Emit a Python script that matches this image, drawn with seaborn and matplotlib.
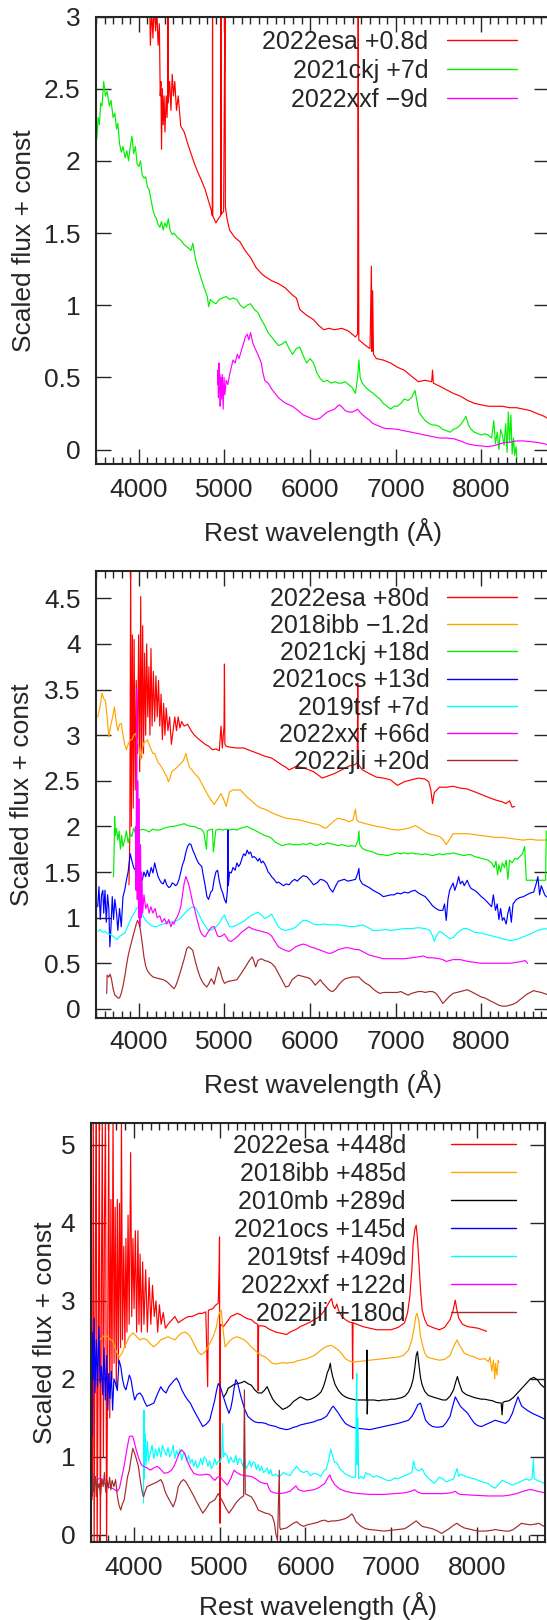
import matplotlib.pyplot as plt
import seaborn as sns
from matplotlib.ticker import MultipleLocator, NullLocator, FuncFormatter

sns.set_style('ticks')
plt.rcParams['font.family'] = ['Liberation Sans', 'DejaVu Sans']

# ---------------- panel 1 (early) ----------------
esa1_wl = [4120, 4135, 4150, 4165, 4180, 4195, 4210, 4225, 4240, 4250, 4258, 4265, 4275, 4285, 4295,
           4305, 4320, 4330, 4338, 4340, 4343, 4360, 4375, 4390, 4405, 4420, 4440, 4460, 4490, 4530,
           4570, 4610, 4650, 4690, 4735, 4775, 4815, 4850, 4858, 4861, 4864, 4900, 4930, 4955, 4959,
           4963, 4990, 5007, 5011, 5030, 5060, 5120, 5180, 5240, 5305, 5370, 5430, 5470, 5550, 5630,
           5710, 5795, 5840, 5880, 5960, 6040, 6100, 6160, 6220, 6285, 6370, 6450, 6530, 6555, 6562,
           6569, 6610, 6650, 6700, 6716, 6722, 6731, 6740, 6775, 6855, 6940, 7020, 7100, 7180, 7265,
           7340, 7420, 7430, 7440, 7510, 7590, 7670, 7755, 7840, 7920, 8000, 8080, 8165, 8245, 8330,
           8410, 8490, 8570, 8650, 8735, 8790]
esa1_fl = [3.3, 2.8, 3.05, 2.85, 3.1, 2.9, 3.05, 2.8, 2.95, 2.45, 2.55, 2.08, 2.5, 2.25, 2.45,
           2.2, 2.45, 2.3, 2.5, 3.2, 2.4, 2.55, 2.35, 2.6, 2.45, 2.55, 2.35, 2.45, 2.24, 2.2,
           2.12, 2.05, 1.98, 1.92, 1.86, 1.8, 1.72, 1.65, 1.62, 3.2, 1.62, 1.57, 1.6, 1.62, 3.2,
           1.63, 1.65, 3.2, 1.68, 1.6, 1.52, 1.47, 1.44, 1.38, 1.33, 1.26, 1.22, 1.2, 1.17, 1.15,
           1.12, 1.07, 1.05, 0.97, 0.93, 0.9, 0.86, 0.83, 0.84, 0.83, 0.84, 0.82, 0.78, 0.8, 3.2,
           0.76, 0.74, 0.72, 0.7, 1.27, 0.68, 1.1, 0.66, 0.63, 0.62, 0.6, 0.57, 0.55, 0.51, 0.47,
           0.48, 0.47, 0.55, 0.46, 0.44, 0.415, 0.39, 0.37, 0.34, 0.32, 0.31, 0.3, 0.3, 0.3, 0.29,
           0.29, 0.28, 0.27, 0.25, 0.23, 0.21]

ckj1_wl = [3510, 3525, 3540, 3555, 3570, 3590, 3610, 3630, 3655, 3675, 3700, 3720, 3740, 3755, 3775,
           3795, 3815, 3840, 3860, 3880, 3900, 3920, 3940, 3960, 3980, 4000, 4020, 4040, 4060, 4080,
           4100, 4120, 4145, 4165, 4185, 4205, 4225, 4245, 4265, 4285, 4305, 4325, 4345, 4365, 4390,
           4410, 4450, 4490, 4530, 4570, 4610, 4630, 4650, 4670, 4695, 4735, 4775, 4800, 4815, 4835,
           4870, 4900, 4940, 4980, 5020, 5060, 5100, 5145, 5185, 5225, 5265, 5305, 5350, 5390, 5430,
           5470, 5510, 5550, 5590, 5630, 5670, 5715, 5755, 5795, 5840, 5880, 5920, 5960, 6000, 6040,
           6080, 6120, 6160, 6200, 6245, 6290, 6330, 6365, 6410, 6450, 6490, 6530, 6555, 6570, 6585,
           6610, 6650, 6690, 6735, 6775, 6815, 6855, 6900, 6940, 6980, 7020, 7060, 7100, 7145, 7185,
           7225, 7250, 7270, 7305, 7345, 7390, 7430, 7470, 7510, 7550, 7595, 7635, 7675, 7715, 7755,
           7790, 7820, 7850, 7880, 7920, 7960, 8000, 8040, 8080, 8120, 8145, 8165, 8185, 8205, 8225,
           8245, 8265, 8285, 8300, 8315, 8330, 8345, 8360, 8375, 8390, 8405, 8415]
ckj1_fl = [2.15, 2.3, 2.25, 2.4, 2.38, 2.55, 2.45, 2.48, 2.38, 2.42, 2.3, 2.33, 2.22, 2.26, 2.12,
           2.06, 2.1, 2.02, 2.07, 2.0, 2.1, 2.17, 2.05, 2.1, 1.98, 1.96, 2.0, 1.9, 1.88, 1.89,
           1.82, 1.8, 1.72, 1.66, 1.62, 1.6, 1.56, 1.54, 1.58, 1.52, 1.57, 1.54, 1.6, 1.52, 1.49,
           1.5, 1.47, 1.45, 1.42, 1.4, 1.38, 1.43, 1.36, 1.3, 1.25, 1.17, 1.1, 1.06, 0.99, 1.04,
           1.02, 1.01, 1.04, 1.05, 1.06, 1.04, 1.05, 1.04, 1.0, 0.98, 1.0, 1.01, 0.97, 0.95, 0.9,
           0.86, 0.81, 0.78, 0.75, 0.72, 0.73, 0.75, 0.7, 0.66, 0.7, 0.71, 0.65, 0.6, 0.63, 0.6,
           0.53, 0.49, 0.47, 0.48, 0.46, 0.47, 0.46, 0.46, 0.47, 0.45, 0.43, 0.39, 0.5, 0.62, 0.5,
           0.46, 0.43, 0.41, 0.39, 0.37, 0.35, 0.32, 0.3, 0.28, 0.3, 0.3, 0.32, 0.35, 0.34, 0.36,
           0.41, 0.33, 0.26, 0.23, 0.2, 0.18, 0.17, 0.17, 0.16, 0.14, 0.13, 0.12, 0.14, 0.15, 0.17,
           0.2, 0.23, 0.17, 0.14, 0.12, 0.11, 0.1, 0.11, 0.1, 0.08, 0.2, 0.04, 0.12, 0.0, 0.14,
           0.1, 0.03, 0.18, -0.02, 0.26, 0.05, 0.24, -0.03, 0.08, -0.04, 0.02, -0.06]

xxf1_wl = [4920, 4925, 4930, 4935, 4940, 4945, 4950, 4958, 4965, 4975, 4985, 4995, 5005, 5020, 5040,
           5060, 5080, 5100, 5125, 5150, 5170, 5185, 5205, 5225, 5245, 5265, 5285, 5305, 5330, 5350,
           5390, 5430, 5450, 5470, 5510, 5550, 5590, 5630, 5670, 5715, 5755, 5795, 5840, 5880, 5920,
           5960, 6000, 6040, 6080, 6120, 6160, 6200, 6245, 6285, 6320, 6345, 6380, 6410, 6450, 6490,
           6530, 6555, 6580, 6615, 6655, 6700, 6735, 6775, 6815, 6855, 6900, 6940, 7020, 7100, 7185,
           7265, 7345, 7430, 7510, 7590, 7675, 7755, 7835, 7920, 8000, 8080, 8165, 8245, 8290, 8330,
           8410, 8490, 8570, 8650, 8735, 8790]
xxf1_fl = [0.45, 0.55, 0.36, 0.6, 0.4, 0.52, 0.3, 0.5, 0.35, 0.52, 0.28, 0.5, 0.38, 0.48, 0.45,
           0.52, 0.57, 0.62, 0.6, 0.66, 0.63, 0.66, 0.7, 0.74, 0.78, 0.8, 0.76, 0.81, 0.74, 0.71,
           0.66, 0.6, 0.53, 0.48, 0.46, 0.42, 0.39, 0.36, 0.34, 0.32, 0.31, 0.3, 0.28, 0.26, 0.24,
           0.23, 0.22, 0.21, 0.21, 0.22, 0.24, 0.26, 0.27, 0.28, 0.3, 0.31, 0.29, 0.27, 0.26, 0.26,
           0.27, 0.28, 0.26, 0.24, 0.22, 0.2, 0.18, 0.17, 0.16, 0.15, 0.145, 0.145, 0.14, 0.13, 0.12,
           0.11, 0.1, 0.09, 0.08, 0.08, 0.075, 0.06, 0.04, 0.03, 0.025, 0.02, 0.03, 0.045, 0.05, 0.05,
           0.06, 0.06, 0.055, 0.05, 0.04, 0.03]

# ---------------- panel 2 (intermediate) ----------------
esa2_wl = [3885, 3895, 3905, 3912, 3925, 3935, 3945, 3958, 3970, 3985, 3998, 4010, 4022, 4032, 4045,
           4055, 4068, 4080, 4092, 4105, 4118, 4130, 4142, 4155, 4170, 4185, 4200, 4215, 4230, 4245,
           4260, 4275, 4290, 4305, 4320, 4340, 4360, 4380, 4400, 4420, 4440, 4460, 4480, 4500, 4530,
           4570, 4610, 4650, 4695, 4735, 4775, 4815, 4860, 4900, 4940, 4960, 4975, 4995, 5000, 5005,
           5020, 5060, 5140, 5225, 5305, 5390, 5470, 5550, 5630, 5675, 5715, 5755, 5800, 5840, 5880,
           5960, 6040, 6100, 6140, 6200, 6285, 6370, 6450, 6530, 6550, 6557, 6563, 6610, 6690, 6775,
           6855, 6940, 7020, 7060, 7100, 7180, 7265, 7340, 7385, 7410, 7430, 7450, 7510, 7590, 7670,
           7755, 7835, 7920, 8000, 8080, 8165, 8245, 8285, 8330, 8360, 8390]
esa2_fl = [1.36, 1.9, 5.0, 2.0, 4.1, 2.2, 4.05, 2.4, 3.6, 2.8, 4.1, 2.6, 4.52, 2.75, 4.2,
           2.8, 3.9, 3.0, 4.0, 3.2, 3.75, 3.0, 3.95, 3.1, 3.7, 3.15, 3.65, 3.2, 3.6, 3.1,
           3.45, 2.95, 3.35, 3.0, 3.3, 3.05, 3.2, 2.9, 3.05, 3.2, 3.05, 3.2, 3.08, 3.15, 3.1,
           3.12, 3.05, 3.0, 2.96, 2.93, 2.9, 2.88, 2.84, 2.85, 2.83, 3.1, 2.86, 3.1, 3.78, 2.9,
           2.88, 2.87, 2.86, 2.86, 2.83, 2.8, 2.77, 2.75, 2.7, 2.67, 2.65, 2.62, 2.64, 2.66, 2.65,
           2.63, 2.6, 2.56, 2.53, 2.55, 2.58, 2.62, 2.66, 2.68, 2.7, 3.57, 2.68, 2.62, 2.58, 2.54,
           2.53, 2.51, 2.45, 2.47, 2.49, 2.51, 2.53, 2.52, 2.49, 2.4, 2.25, 2.37, 2.43, 2.43, 2.44,
           2.42, 2.41, 2.38, 2.35, 2.32, 2.29, 2.27, 2.25, 2.28, 2.21, 2.22]

ibb2_wl = [3520, 3545, 3570, 3590, 3610, 3630, 3650, 3670, 3695, 3715, 3735, 3755, 3775, 3795, 3815,
           3835, 3855, 3875, 3900, 3920, 3940, 3960, 3980, 4000, 4020, 4040, 4060, 4080, 4100, 4120,
           4145, 4165, 4185, 4205, 4225, 4245, 4265, 4285, 4305, 4325, 4345, 4365, 4385, 4410, 4450,
           4490, 4520, 4550, 4570, 4590, 4620, 4650, 4695, 4735, 4775, 4815, 4850, 4880, 4920, 4960,
           4990, 5020, 5040, 5060, 5100, 5145, 5185, 5225, 5265, 5305, 5350, 5390, 5430, 5470, 5550,
           5630, 5715, 5800, 5880, 5960, 6040, 6100, 6150, 6185, 6220, 6280, 6325, 6370, 6410, 6450,
           6500, 6530, 6545, 6570, 6650, 6735, 6775, 6855, 6940, 7020, 7100, 7185, 7225, 7265, 7300,
           7345, 7390, 7430, 7470, 7510, 7550, 7590, 7630, 7670, 7755, 7840, 7920, 8000, 8080, 8165,
           8245, 8330, 8410, 8490, 8570, 8650, 8735, 8790]
ibb2_fl = [3.2, 3.3, 3.46, 3.4, 3.38, 3.2, 2.98, 3.1, 3.2, 3.31, 3.15, 3.05, 3.12, 3.13, 3.0,
           2.9, 2.84, 2.9, 2.95, 2.95, 3.0, 3.02, 2.95, 2.87, 2.73, 2.85, 2.92, 2.93, 2.95, 2.9,
           2.84, 2.8, 2.8, 2.75, 2.7, 2.68, 2.65, 2.62, 2.58, 2.55, 2.49, 2.53, 2.6, 2.62, 2.65,
           2.69, 2.72, 2.8, 2.72, 2.65, 2.62, 2.58, 2.54, 2.47, 2.4, 2.33, 2.28, 2.24, 2.3, 2.36,
           2.3, 2.22, 2.3, 2.38, 2.4, 2.4, 2.4, 2.36, 2.32, 2.29, 2.25, 2.22, 2.2, 2.19, 2.15,
           2.12, 2.09, 2.08, 2.07, 2.05, 2.03, 2.02, 1.99, 1.98, 2.01, 2.06, 2.09, 2.08, 2.07, 2.05,
           2.07, 2.19, 2.07, 2.05, 2.03, 2.01, 2.0, 1.99, 1.97, 1.96, 1.97, 1.99, 2.01, 1.99, 1.97,
           1.94, 1.92, 1.91, 1.9, 1.89, 1.86, 1.8, 1.86, 1.92, 1.92, 1.92, 1.91, 1.9, 1.89, 1.88,
           1.88, 1.87, 1.86, 1.85, 1.86, 1.85, 1.85, 1.86]

ckj2_wl = [3700, 3705, 3712, 3718, 3725, 3740, 3755, 3770, 3785, 3800, 3815, 3835, 3855, 3875, 3900,
           3920, 3940, 3960, 3980, 4000, 4040, 4080, 4120, 4160, 4205, 4245, 4290, 4330, 4370, 4410,
           4450, 4490, 4530, 4570, 4610, 4650, 4690, 4730, 4760, 4790, 4800, 4815, 4860, 4870, 4900,
           4940, 4980, 5020, 5060, 5100, 5145, 5185, 5225, 5265, 5305, 5350, 5390, 5430, 5470, 5510,
           5550, 5590, 5630, 5670, 5715, 5760, 5800, 5840, 5880, 5920, 5960, 6000, 6040, 6080, 6120,
           6160, 6200, 6245, 6290, 6330, 6370, 6410, 6450, 6490, 6530, 6560, 6570, 6580, 6610, 6650,
           6690, 6735, 6775, 6815, 6855, 6900, 6940, 6980, 7020, 7060, 7100, 7145, 7185, 7225, 7265,
           7305, 7345, 7390, 7430, 7470, 7510, 7550, 7595, 7635, 7675, 7715, 7755, 7795, 7840, 7880,
           7920, 7960, 8000, 8040, 8080, 8120, 8150, 8170, 8190, 8205, 8225, 8245, 8270, 8290, 8310,
           8330, 8360, 8390, 8420, 8450, 8480, 8505, 8515, 8525, 8600, 8680, 8750, 8758]
ckj2_fl = [1.45, 1.45, 1.75, 2.11, 1.9, 1.98, 1.85, 1.95, 1.75, 1.9, 1.78, 1.85, 1.95, 1.82, 1.92,
           1.89, 1.98, 1.93, 1.97, 1.95, 1.97, 1.96, 1.94, 1.97, 1.96, 1.96, 1.98, 1.99, 2.0, 2.0,
           2.01, 2.02, 2.03, 2.01, 2.0, 2.0, 1.98, 1.97, 1.93, 1.75, 1.95, 1.96, 1.97, 1.72, 1.96,
           1.97, 1.96, 1.97, 1.96, 1.97, 1.96, 1.98, 1.99, 2.0, 1.98, 1.96, 1.94, 1.92, 1.9, 1.89,
           1.87, 1.83, 1.81, 1.79, 1.8, 1.81, 1.8, 1.8, 1.8, 1.81, 1.8, 1.82, 1.8, 1.79, 1.81,
           1.8, 1.82, 1.81, 1.8, 1.79, 1.8, 1.79, 1.78, 1.79, 1.78, 1.85, 1.95, 1.8, 1.76, 1.74,
           1.73, 1.72, 1.7, 1.69, 1.69, 1.68, 1.69, 1.7, 1.71, 1.7, 1.71, 1.7, 1.71, 1.7, 1.7,
           1.69, 1.7, 1.69, 1.68, 1.69, 1.7, 1.69, 1.7, 1.7, 1.71, 1.7, 1.69, 1.68, 1.69, 1.69,
           1.67, 1.66, 1.65, 1.64, 1.63, 1.6, 1.55, 1.62, 1.47, 1.58, 1.5, 1.6, 1.55, 1.63, 1.42,
           1.63, 1.6, 1.65, 1.64, 1.67, 1.7, 1.78, 1.6, 1.41, 1.41, 1.41, 1.41, 1.95]

ocs2_wl = [3520, 3535, 3550, 3565, 3580, 3590, 3605, 3620, 3635, 3650, 3662, 3675, 3690, 3705, 3720,
           3740, 3755, 3775, 3795, 3815, 3835, 3855, 3875, 3900, 3920, 3940, 3960, 3980, 4000, 4020,
           4040, 4060, 4080, 4100, 4120, 4145, 4165, 4185, 4205, 4225, 4245, 4265, 4285, 4305, 4325,
           4350, 4370, 4390, 4410, 4430, 4450, 4470, 4490, 4510, 4530, 4550, 4570, 4590, 4610, 4630,
           4650, 4670, 4695, 4715, 4735, 4755, 4775, 4795, 4815, 4840, 4860, 4880, 4900, 4920, 4940,
           4960, 4980, 5000, 5020, 5035, 5040, 5045, 5060, 5080, 5100, 5125, 5145, 5165, 5185, 5205,
           5225, 5245, 5265, 5285, 5305, 5325, 5345, 5370, 5390, 5410, 5430, 5450, 5470, 5490, 5510,
           5530, 5550, 5580, 5610, 5630, 5660, 5690, 5720, 5755, 5790, 5820, 5850, 5880, 5920, 5960,
           6000, 6040, 6080, 6120, 6160, 6200, 6230, 6265, 6300, 6330, 6365, 6400, 6440, 6490, 6530,
           6555, 6570, 6580, 6610, 6650, 6690, 6735, 6775, 6815, 6855, 6900, 6940, 6980, 7020, 7060,
           7100, 7145, 7185, 7225, 7265, 7305, 7345, 7390, 7430, 7470, 7510, 7550, 7570, 7590, 7610,
           7630, 7650, 7670, 7690, 7715, 7735, 7755, 7780, 7800, 7835, 7860, 7880, 7920, 7960, 8000,
           8040, 8080, 8120, 8140, 8165, 8185, 8205, 8225, 8245, 8265, 8290, 8310, 8330, 8350, 8370,
           8410, 8450, 8490, 8530, 8570, 8610, 8640, 8660, 8680, 8700, 8720, 8740, 8760, 8790]
ocs2_fl = [1.12, 1.34, 0.98, 1.25, 1.3, 1.05, 1.3, 0.95, 1.25, 1.1, 0.68, 0.9, 1.23, 0.98, 1.2,
           1.05, 0.86, 1.1, 0.9, 1.23, 1.3, 1.41, 1.5, 1.7, 1.62, 1.55, 1.52, 1.45, 1.55, 1.42,
           1.41, 1.5, 1.45, 1.52, 1.45, 1.55, 1.49, 1.6, 1.52, 1.45, 1.41, 1.38, 1.37, 1.42, 1.36,
           1.33, 1.34, 1.38, 1.37, 1.35, 1.37, 1.42, 1.5, 1.58, 1.63, 1.72, 1.78, 1.81, 1.8, 1.74,
           1.7, 1.65, 1.6, 1.58, 1.56, 1.45, 1.35, 1.23, 1.2, 1.28, 1.3, 1.42, 1.5, 1.52, 1.4,
           1.32, 1.27, 1.2, 1.16, 1.3, 1.96, 1.35, 1.5, 1.49, 1.55, 1.52, 1.6, 1.56, 1.59, 1.65,
           1.7, 1.68, 1.74, 1.7, 1.72, 1.66, 1.67, 1.65, 1.62, 1.65, 1.6, 1.62, 1.59, 1.55, 1.5,
           1.48, 1.45, 1.42, 1.38, 1.39, 1.37, 1.35, 1.37, 1.36, 1.4, 1.42, 1.4, 1.43, 1.46, 1.45,
           1.41, 1.36, 1.38, 1.42, 1.41, 1.38, 1.32, 1.28, 1.35, 1.4, 1.41, 1.42, 1.4, 1.41, 1.42,
           1.48, 1.54, 1.42, 1.37, 1.35, 1.33, 1.3, 1.28, 1.26, 1.23, 1.24, 1.25, 1.25, 1.27, 1.26,
           1.28, 1.27, 1.29, 1.3, 1.27, 1.25, 1.23, 1.18, 1.13, 1.1, 1.08, 1.08, 1.15, 0.97, 1.2,
           1.3, 1.34, 1.38, 1.3, 1.37, 1.45, 1.37, 1.4, 1.35, 1.41, 1.35, 1.32, 1.3, 1.27, 1.23,
           1.2, 1.16, 1.12, 1.25, 1.08, 1.15, 0.98, 1.1, 0.97, 1.0, 0.93, 1.05, 1.12, 0.95, 1.15,
           1.2, 1.22, 1.23, 1.25, 1.27, 1.28, 1.37, 1.45, 1.25, 1.35, 1.3, 1.25, 1.23, 1.22]

tsf2_wl = [3525, 3550, 3580, 3610, 3630, 3660, 3690, 3720, 3745, 3770, 3800, 3835, 3860, 3890, 3920,
           3950, 3975, 4000, 4020, 4040, 4060, 4080, 4110, 4150, 4205, 4245, 4285, 4325, 4370, 4410,
           4450, 4490, 4530, 4570, 4610, 4650, 4680, 4710, 4735, 4775, 4815, 4860, 4900, 4940, 4975,
           5000, 5030, 5060, 5100, 5145, 5185, 5225, 5265, 5305, 5350, 5390, 5430, 5470, 5510, 5550,
           5590, 5630, 5670, 5715, 5755, 5800, 5840, 5880, 5920, 5960, 6000, 6040, 6080, 6160, 6245,
           6330, 6410, 6490, 6570, 6610, 6660, 6700, 6735, 6800, 6880, 6940, 7020, 7100, 7185, 7265,
           7345, 7400, 7430, 7450, 7470, 7510, 7550, 7590, 7630, 7670, 7715, 7755, 7795, 7835, 7880,
           7920, 8000, 8080, 8165, 8245, 8330, 8410, 8490, 8570, 8655, 8735, 8790]
tsf2_fl = [0.85, 0.87, 0.84, 0.85, 0.83, 0.82, 0.8, 0.78, 0.76, 0.79, 0.81, 0.83, 0.88, 0.95, 1.01,
           1.06, 1.1, 1.12, 1.1, 1.04, 1.0, 0.97, 0.94, 0.91, 0.9, 0.92, 0.93, 0.94, 0.95, 0.96,
           0.97, 1.0, 1.04, 1.08, 1.11, 1.12, 1.08, 1.02, 0.97, 0.91, 0.86, 0.87, 0.9, 0.94, 1.0,
           1.03, 0.96, 0.9, 0.9, 0.92, 0.94, 0.96, 0.99, 1.02, 1.04, 1.06, 1.03, 0.99, 1.01, 1.04,
           0.97, 0.9, 0.87, 0.86, 0.87, 0.88, 0.9, 0.94, 0.97, 0.97, 0.95, 0.93, 0.92, 0.93, 0.92,
           0.92, 0.91, 0.9, 0.91, 0.92, 0.9, 0.88, 0.86, 0.86, 0.87, 0.86, 0.87, 0.88, 0.88, 0.89,
           0.88, 0.86, 0.8, 0.74, 0.79, 0.85, 0.83, 0.8, 0.77, 0.78, 0.83, 0.86, 0.88, 0.88, 0.86,
           0.84, 0.83, 0.81, 0.79, 0.77, 0.75, 0.76, 0.79, 0.82, 0.86, 0.88, 0.87]

xxf2_wl = [3960, 3968, 3975, 3982, 3990, 3997, 4005, 4012, 4020, 4028, 4035, 4045, 4060, 4080, 4100,
           4120, 4140, 4165, 4190, 4215, 4245, 4270, 4300, 4325, 4350, 4375, 4395, 4410, 4430, 4450,
           4470, 4490, 4510, 4530, 4550, 4570, 4590, 4610, 4630, 4650, 4680, 4715, 4735, 4755, 4775,
           4800, 4820, 4835, 4860, 4880, 4900, 4920, 4940, 4970, 5000, 5020, 5045, 5080, 5120, 5160,
           5200, 5245, 5285, 5320, 5350, 5390, 5430, 5470, 5510, 5550, 5590, 5630, 5670, 5715, 5755,
           5790, 5830, 5880, 5920, 5960, 6000, 6040, 6100, 6160, 6210, 6245, 6290, 6330, 6370, 6410,
           6450, 6490, 6530, 6570, 6610, 6650, 6690, 6735, 6775, 6815, 6855, 6940, 7020, 7100, 7185,
           7265, 7325, 7370, 7430, 7510, 7550, 7590, 7630, 7670, 7755, 7840, 7920, 8000, 8080, 8165,
           8245, 8330, 8410, 8470, 8510, 8540]
xxf2_fl = [2.0, 1.3, 3.5, 1.2, 2.5, 1.0, 2.3, 0.9, 1.8, 1.0, 1.5, 1.05, 1.25, 1.1, 1.15,
           1.05, 1.12, 1.05, 1.1, 1.0, 1.02, 0.95, 0.99, 0.93, 0.98, 0.9, 0.95, 0.93, 0.98, 1.01,
           1.06, 1.12, 1.25, 1.38, 1.45, 1.4, 1.34, 1.25, 1.16, 1.1, 0.98, 0.86, 0.82, 0.8, 0.79,
           0.83, 0.86, 0.88, 0.9, 0.9, 0.85, 0.8, 0.79, 0.8, 0.82, 0.79, 0.75, 0.74, 0.77, 0.8,
           0.84, 0.87, 0.9, 0.88, 0.87, 0.86, 0.85, 0.84, 0.83, 0.8, 0.74, 0.68, 0.66, 0.64, 0.63,
           0.65, 0.68, 0.7, 0.71, 0.7, 0.68, 0.67, 0.65, 0.63, 0.61, 0.61, 0.63, 0.65, 0.66, 0.67,
           0.67, 0.66, 0.65, 0.65, 0.63, 0.61, 0.59, 0.58, 0.57, 0.56, 0.55, 0.55, 0.55, 0.55, 0.56,
           0.57, 0.58, 0.56, 0.56, 0.55, 0.54, 0.52, 0.53, 0.54, 0.54, 0.52, 0.51, 0.5, 0.5, 0.5,
           0.5, 0.5, 0.51, 0.52, 0.53, 0.5]

jli2_wl = [3625, 3630, 3650, 3665, 3680, 3700, 3720, 3735, 3755, 3775, 3795, 3815, 3835, 3855, 3875,
           3900, 3925, 3950, 3970, 3985, 4000, 4020, 4040, 4060, 4080, 4100, 4130, 4165, 4200, 4245,
           4285, 4325, 4370, 4410, 4430, 4450, 4490, 4530, 4560, 4580, 4610, 4630, 4660, 4690, 4715,
           4740, 4770, 4795, 4820, 4845, 4860, 4880, 4900, 4930, 4950, 4975, 5000, 5040, 5090, 5145,
           5190, 5245, 5290, 5325, 5345, 5365, 5390, 5430, 5470, 5510, 5550, 5590, 5630, 5670, 5715,
           5750, 5790, 5830, 5860, 5900, 5940, 5980, 6000, 6030, 6060, 6090, 6120, 6150, 6190, 6230,
           6265, 6300, 6340, 6380, 6410, 6450, 6490, 6530, 6570, 6610, 6650, 6690, 6735, 6775, 6815,
           6860, 6900, 6940, 6980, 7020, 7060, 7100, 7145, 7185, 7225, 7265, 7305, 7345, 7390, 7430,
           7470, 7510, 7550, 7590, 7630, 7670, 7715, 7755, 7795, 7835, 7880, 7920, 7960, 8000, 8040,
           8080, 8120, 8165, 8205, 8245, 8290, 8330, 8370, 8410, 8450, 8490, 8530, 8570, 8610, 8650,
           8700, 8760, 8790]
jli2_fl = [0.17, 0.37, 0.35, 0.38, 0.33, 0.22, 0.15, 0.14, 0.12, 0.12, 0.17, 0.25, 0.35, 0.47, 0.58,
           0.68, 0.77, 0.86, 0.93, 0.97, 0.94, 0.86, 0.72, 0.57, 0.47, 0.42, 0.38, 0.35, 0.34, 0.33,
           0.32, 0.3, 0.26, 0.22, 0.25, 0.3, 0.42, 0.55, 0.66, 0.68, 0.66, 0.64, 0.52, 0.42, 0.35,
           0.3, 0.26, 0.24, 0.28, 0.33, 0.31, 0.27, 0.35, 0.46, 0.42, 0.33, 0.28, 0.3, 0.31, 0.32,
           0.38, 0.46, 0.53, 0.57, 0.52, 0.46, 0.53, 0.55, 0.53, 0.52, 0.5, 0.46, 0.39, 0.32, 0.24,
           0.25, 0.32, 0.35, 0.37, 0.36, 0.35, 0.34, 0.33, 0.3, 0.26, 0.29, 0.32, 0.28, 0.24, 0.2,
           0.19, 0.22, 0.27, 0.31, 0.33, 0.34, 0.35, 0.35, 0.35, 0.31, 0.28, 0.26, 0.22, 0.19, 0.17,
           0.18, 0.18, 0.18, 0.18, 0.18, 0.19, 0.17, 0.15, 0.17, 0.18, 0.19, 0.19, 0.18, 0.19, 0.19,
           0.17, 0.12, 0.06, 0.1, 0.14, 0.17, 0.18, 0.19, 0.2, 0.21, 0.19, 0.17, 0.15, 0.13, 0.12,
           0.1, 0.08, 0.06, 0.04, 0.03, 0.03, 0.04, 0.05, 0.07, 0.1, 0.13, 0.16, 0.18, 0.2, 0.19,
           0.18, 0.16, 0.15]

# ---------------- panel 3 (nebular) ----------------
esa3_wl = [3520, 3530, 3540, 3555, 3565, 3575, 3590, 3600, 3612, 3625, 3635, 3648, 3660, 3672, 3685,
           3698, 3710, 3722, 3735, 3748, 3760, 3772, 3785, 3798, 3810, 3822, 3835, 3848, 3858, 3870,
           3885, 3898, 3910, 3922, 3935, 3948, 3965, 3978, 3992, 4005, 4020, 4035, 4050, 4062, 4075,
           4090, 4105, 4120, 4140, 4160, 4180, 4200, 4220, 4240, 4260, 4280, 4300, 4320, 4345, 4370,
           4400, 4440, 4480, 4520, 4560, 4600, 4640, 4680, 4720, 4760, 4800, 4840, 4862, 4870, 4920,
           4960, 4985, 4995, 5000, 5005, 5010, 5045, 5080, 5130, 5170, 5210, 5250, 5290, 5330, 5370,
           5410, 5445, 5450, 5455, 5500, 5535, 5575, 5615, 5655, 5695, 5740, 5780, 5820, 5860, 5900,
           5940, 5980, 6020, 6060, 6100, 6140, 6180, 6225, 6260, 6285, 6305, 6325, 6345, 6365, 6385,
           6425, 6465, 6510, 6545, 6550, 6555, 6600, 6670, 6750, 6830, 6910, 6995, 7080, 7155, 7190,
           7215, 7240, 7255, 7275, 7290, 7305, 7320, 7340, 7360, 7390, 7420, 7480, 7560, 7620, 7685,
           7720, 7745, 7765, 7785, 7830, 7890, 7950, 8010, 8060, 8110]
esa3_fl = [0.5, 5.4, -0.2, 3.6, 5.4, -0.2, 2.8, 5.4, -0.2, 3.2, 5.4, 1.0, 4.0, 5.4, -0.2,
           2.4, 5.4, 1.5, 4.3, 2.0, 5.4, 2.2, 4.2, 1.9, 4.3, 2.2, 4.25, 2.4, 5.35, 2.5,
           3.7, 2.4, 3.8, 2.6, 4.1, 2.7, 4.9, 2.8, 3.8, 2.9, 3.9, 2.6, 3.9, 2.7, 3.6,
           2.6, 3.5, 2.7, 3.4, 2.6, 3.3, 2.7, 3.2, 2.8, 3.0, 2.6, 2.95, 2.7, 2.85, 2.65,
           2.7, 2.75, 2.8, 2.72, 2.75, 2.78, 2.8, 2.8, 2.82, 2.84, 2.84, 2.86, 1.9, 2.88, 2.9,
           2.95, 2.97, 3.4, 3.82, 0.15, 2.7, 2.67, 2.72, 2.8, 2.82, 2.84, 2.82, 2.79, 2.77, 2.76,
           2.72, 2.7, 1.85, 2.68, 2.68, 2.67, 2.64, 2.62, 2.6, 2.59, 2.58, 2.57, 2.6, 2.62, 2.64,
           2.67, 2.69, 2.71, 2.73, 2.76, 2.78, 2.82, 2.88, 2.95, 3.0, 3.03, 2.93, 2.9, 2.96, 2.88,
           2.8, 2.76, 2.73, 2.72, 2.0, 2.72, 2.7, 2.67, 2.65, 2.63, 2.63, 2.63, 2.66, 2.72, 2.85,
           3.05, 3.4, 3.74, 3.92, 3.97, 3.8, 3.52, 3.15, 2.88, 2.76, 2.69, 2.66, 2.63, 2.66, 2.76,
           2.88, 3.01, 2.88, 2.78, 2.7, 2.67, 2.66, 2.65, 2.63, 2.61]

ibb3_wl = [3525, 3550, 3575, 3600, 3625, 3650, 3670, 3700, 3725, 3750, 3775, 3800, 3830, 3860, 3890,
           3910, 3950, 3990, 4030, 4073, 4115, 4155, 4195, 4235, 4275, 4316, 4357, 4400, 4440, 4480,
           4520, 4560, 4600, 4640, 4680, 4720, 4755, 4785, 4815, 4845, 4885, 4925, 4960, 4985, 5005,
           5020, 5040, 5065, 5100, 5130, 5170, 5210, 5250, 5290, 5330, 5370, 5410, 5450, 5490, 5535,
           5575, 5615, 5655, 5695, 5740, 5780, 5820, 5860, 5900, 5940, 5980, 6020, 6060, 6100, 6140,
           6180, 6220, 6260, 6305, 6345, 6385, 6425, 6465, 6510, 6550, 6590, 6670, 6750, 6830, 6915,
           6995, 7080, 7140, 7200, 7240, 7265, 7285, 7300, 7320, 7340, 7360, 7390, 7420, 7480, 7560,
           7620, 7685, 7720, 7765, 7800, 7850, 7910, 7970, 8030, 8090, 8130, 8150, 8170, 8190, 8205,
           8215, 8230, 8245, 8255]
ibb3_fl = [2.46, 2.42, 2.48, 2.5, 2.52, 2.55, 2.54, 2.55, 2.5, 2.5, 2.42, 2.35, 2.28, 2.32, 2.4,
           2.45, 2.54, 2.59, 2.55, 2.5, 2.52, 2.5, 2.45, 2.41, 2.45, 2.5, 2.52, 2.54, 2.52, 2.5,
           2.55, 2.59, 2.6, 2.57, 2.5, 2.41, 2.34, 2.31, 2.33, 2.37, 2.45, 2.54, 2.65, 2.8, 2.86,
           2.88, 2.65, 2.41, 2.46, 2.5, 2.53, 2.54, 2.52, 2.5, 2.46, 2.41, 2.37, 2.33, 2.3, 2.28,
           2.24, 2.2, 2.19, 2.2, 2.21, 2.2, 2.21, 2.21, 2.23, 2.24, 2.25, 2.26, 2.28, 2.3, 2.33,
           2.37, 2.4, 2.42, 2.43, 2.4, 2.37, 2.32, 2.26, 2.23, 2.22, 2.22, 2.23, 2.24, 2.25, 2.26,
           2.27, 2.28, 2.3, 2.37, 2.5, 2.65, 2.8, 2.84, 2.75, 2.55, 2.45, 2.33, 2.28, 2.26, 2.24,
           2.25, 2.3, 2.4, 2.5, 2.42, 2.33, 2.3, 2.28, 2.25, 2.26, 2.22, 2.28, 2.1, 2.24, 2.0,
           2.2, 2.05, 2.24, 2.21]

mb3_wl = [5050, 5080, 5100, 5130, 5170, 5210, 5250, 5290, 5330, 5370, 5410, 5450, 5490, 5520, 5555,
          5585, 5620, 5655, 5695, 5735, 5780, 5820, 5860, 5900, 5940, 5980, 6020, 6060, 6100, 6140,
          6180, 6210, 6235, 6255, 6275, 6290, 6300, 6320, 6345, 6385, 6425, 6465, 6510, 6550, 6590,
          6640, 6690, 6712, 6716, 6720, 6725, 6760, 6800, 6850, 6900, 6950, 6995, 7040, 7080, 7120,
          7160, 7200, 7230, 7255, 7275, 7290, 7305, 7320, 7340, 7360, 7390, 7430, 7480, 7540, 7600,
          7640, 7685, 7725, 7750, 7770, 7790, 7825, 7870, 7920, 7970, 8010, 8050, 8090, 8130, 8180,
          8220, 8280, 8290, 8300, 8320, 8370, 8420, 8470, 8520, 8570, 8620, 8660, 8700, 8740, 8790]
mb3_fl = [1.77, 1.82, 1.88, 1.9, 1.93, 1.94, 1.95, 1.97, 1.94, 1.92, 1.86, 1.82, 1.82, 1.85, 1.9,
          1.82, 1.74, 1.69, 1.65, 1.61, 1.63, 1.66, 1.71, 1.74, 1.77, 1.75, 1.73, 1.74, 1.76, 1.79,
          1.83, 1.9, 1.99, 2.08, 2.13, 2.2, 2.12, 2.02, 1.93, 1.85, 1.8, 1.77, 1.75, 1.74, 1.73,
          1.73, 1.73, 1.73, 2.37, 1.55, 1.73, 1.73, 1.73, 1.72, 1.73, 1.73, 1.74, 1.74, 1.75, 1.76,
          1.78, 1.83, 1.9, 2.0, 2.15, 2.3, 2.35, 2.2, 2.02, 1.92, 1.84, 1.79, 1.77, 1.75, 1.73,
          1.73, 1.78, 1.86, 1.96, 2.03, 1.95, 1.84, 1.8, 1.78, 1.76, 1.75, 1.74, 1.74, 1.73, 1.72,
          1.7, 1.69, 1.54, 1.7, 1.71, 1.72, 1.76, 1.82, 1.88, 1.94, 2.0, 2.02, 1.99, 1.93, 1.88]

ocs3_wl = [3515, 3520, 3530, 3540, 3550, 3565, 3580, 3595, 3610, 3625, 3640, 3655, 3670, 3685, 3700,
           3710, 3725, 3740, 3755, 3770, 3790, 3810, 3830, 3850, 3870, 3890, 3910, 3930, 3950, 3970,
           3990, 4012, 4040, 4073, 4100, 4130, 4155, 4195, 4235, 4275, 4316, 4345, 4377, 4410, 4440,
           4470, 4500, 4530, 4560, 4600, 4630, 4660, 4700, 4740, 4770, 4805, 4845, 4885, 4915, 4945,
           4965, 4985, 5010, 5045, 5080, 5110, 5130, 5150, 5170, 5190, 5210, 5250, 5290, 5330, 5370,
           5410, 5450, 5490, 5535, 5575, 5615, 5655, 5695, 5740, 5780, 5820, 5860, 5900, 5940, 5980,
           6020, 6060, 6100, 6140, 6180, 6215, 6245, 6280, 6305, 6325, 6345, 6385, 6425, 6465, 6510,
           6550, 6590, 6670, 6750, 6830, 6915, 6995, 7080, 7140, 7200, 7240, 7280, 7310, 7340, 7370,
           7400, 7440, 7480, 7540, 7600, 7640, 7685, 7715, 7745, 7770, 7805, 7850, 7890, 7930, 7970,
           8010, 8050, 8130, 8210, 8270, 8330, 8370, 8410, 8440, 8475, 8500, 8520, 8580, 8640, 8700,
           8760, 8790]
ocs3_fl = [1.26, 2.6, 1.99, 2.78, 1.82, 2.5, 1.9, 2.67, 1.95, 2.16, 1.8, 2.4, 1.73, 2.3, 1.6,
           2.07, 1.75, 2.1, 1.6, 2.0, 1.94, 1.85, 2.24, 2.16, 2.0, 1.9, 1.86, 1.95, 2.05, 1.99,
           1.85, 1.73, 1.8, 1.82, 1.78, 1.7, 1.65, 1.67, 1.69, 1.8, 1.9, 1.85, 1.82, 1.9, 1.94,
           1.98, 2.01, 1.95, 1.86, 1.78, 1.73, 1.69, 1.6, 1.52, 1.46, 1.39, 1.42, 1.47, 1.6, 1.73,
           1.85, 1.94, 1.9, 1.77, 1.65, 1.56, 1.62, 1.73, 1.88, 1.99, 1.95, 1.77, 1.62, 1.52, 1.48,
           1.45, 1.44, 1.44, 1.43, 1.41, 1.4, 1.39, 1.37, 1.36, 1.35, 1.36, 1.38, 1.39, 1.41, 1.42,
           1.43, 1.44, 1.45, 1.47, 1.48, 1.5, 1.52, 1.58, 1.63, 1.65, 1.62, 1.56, 1.49, 1.43, 1.4,
           1.38, 1.37, 1.36, 1.35, 1.37, 1.39, 1.41, 1.43, 1.45, 1.47, 1.52, 1.6, 1.67, 1.69, 1.58,
           1.47, 1.42, 1.39, 1.38, 1.39, 1.44, 1.52, 1.65, 1.77, 1.72, 1.65, 1.6, 1.56, 1.49, 1.43,
           1.4, 1.39, 1.43, 1.47, 1.45, 1.43, 1.47, 1.56, 1.66, 1.77, 1.7, 1.65, 1.6, 1.56, 1.53,
           1.5, 1.48]

tsf3_wl = [4115, 4120, 4125, 4135, 4145, 4160, 4175, 4195, 4215, 4235, 4255, 4275, 4295, 4316, 4336,
           4357, 4380, 4400, 4420, 4440, 4460, 4480, 4500, 4520, 4540, 4560, 4580, 4600, 4620, 4640,
           4660, 4680, 4700, 4720, 4740, 4760, 4780, 4800, 4820, 4845, 4865, 4885, 4905, 4925, 4945,
           4965, 4985, 5005, 5025, 5035, 5045, 5065, 5090, 5110, 5130, 5150, 5170, 5190, 5210, 5230,
           5250, 5270, 5290, 5310, 5330, 5350, 5370, 5390, 5410, 5430, 5450, 5470, 5490, 5510, 5535,
           5555, 5575, 5595, 5615, 5655, 5695, 5740, 5780, 5820, 5860, 5900, 5940, 5980, 6020, 6060,
           6100, 6140, 6180, 6215, 6245, 6275, 6295, 6315, 6340, 6365, 6400, 6430, 6465, 6510, 6545,
           6585, 6592, 6598, 6604, 6612, 6620, 6650, 6680, 6700, 6720, 6750, 6790, 6830, 6870, 6910,
           6950, 6995, 7040, 7080, 7115, 7155, 7200, 7240, 7260, 7280, 7320, 7360, 7390, 7420, 7460,
           7500, 7530, 7560, 7600, 7640, 7685, 7725, 7765, 7785, 7805, 7850, 7890, 7930, 7970, 8010,
           8060, 8100, 8130, 8170, 8210, 8250, 8290, 8330, 8370, 8410, 8455, 8495, 8535, 8570, 8610,
           8640, 8655, 8665, 8700, 8740, 8790]
tsf3_fl = [0.41, 1.6, 0.72, 1.3, 0.9, 1.2, 0.95, 1.05, 1.15, 0.98, 1.1, 1.01, 1.12, 1.0, 1.15,
           1.08, 1.02, 1.12, 1.0, 1.05, 1.15, 0.98, 1.08, 1.01, 1.1, 0.96, 1.05, 1.05, 0.95, 1.02,
           0.92, 0.97, 0.88, 0.95, 0.86, 0.89, 0.98, 0.9, 1.0, 0.97, 0.88, 0.95, 0.85, 0.89, 0.98,
           0.9, 0.95, 0.93, 1.0, 1.43, 1.0, 1.05, 1.01, 0.92, 1.0, 0.95, 0.93, 1.02, 0.9, 0.98,
           0.97, 0.88, 0.95, 0.85, 0.89, 0.95, 0.87, 0.93, 0.93, 0.84, 0.9, 0.82, 0.88, 0.8, 0.82,
           0.86, 0.78, 0.84, 0.76, 0.78, 0.74, 0.8, 0.78, 0.76, 0.83, 0.88, 0.82, 0.8, 0.82, 0.76,
           0.79, 0.78, 0.75, 0.82, 0.85, 0.98, 1.1, 1.02, 0.93, 0.93, 0.85, 0.82, 0.78, 0.76, 0.74,
           0.74, 1.69, 2.07, 0.9, 1.5, 0.72, 0.75, 0.72, 0.8, 0.78, 0.78, 0.74, 0.76, 0.74, 0.72,
           0.7, 0.7, 0.73, 0.72, 0.74, 0.76, 0.78, 0.8, 0.95, 0.85, 0.82, 0.85, 0.78, 0.74, 0.7,
           0.66, 0.7, 0.74, 0.72, 0.68, 0.7, 0.72, 0.85, 0.75, 0.78, 0.76, 0.74, 0.73, 0.72, 0.7,
           0.68, 0.67, 0.66, 0.62, 0.6, 0.65, 0.7, 0.68, 0.66, 0.64, 0.66, 0.68, 0.7, 0.72, 0.7,
           0.72, 0.97, 0.72, 0.7, 0.68, 0.66]

xxf3_wl = [3515, 3550, 3590, 3625, 3660, 3700, 3750, 3780, 3810, 3835, 3850, 3870, 3890, 3910, 3930,
           3950, 3970, 3990, 4010, 4030, 4060, 4090, 4115, 4155, 4195, 4235, 4275, 4316, 4357, 4400,
           4440, 4470, 4500, 4530, 4560, 4590, 4620, 4660, 4700, 4750, 4805, 4845, 4885, 4915, 4945,
           4975, 5005, 5040, 5090, 5130, 5170, 5200, 5250, 5300, 5370, 5420, 5470, 5520, 5555, 5575,
           5595, 5640, 5695, 5760, 5820, 5860, 5890, 5920, 5980, 6040, 6100, 6160, 6225, 6265, 6285,
           6305, 6345, 6400, 6465, 6550, 6630, 6750, 6915, 7040, 7155, 7230, 7270, 7310, 7360, 7480,
           7600, 7700, 7745, 7780, 7805, 7950, 8130, 8300, 8375, 8460, 8535, 8600, 8640, 8700, 8790]
xxf3_fl = [0.68, 0.7, 0.72, 0.72, 0.66, 0.62, 0.6, 0.58, 0.56, 0.6, 0.68, 0.78, 0.89, 1.02, 1.15,
           1.26, 1.27, 1.26, 1.18, 1.09, 0.98, 0.9, 0.88, 0.86, 0.83, 0.86, 0.88, 0.84, 0.79, 0.8,
           0.83, 0.88, 0.96, 1.05, 1.09, 1.05, 0.96, 0.86, 0.79, 0.77, 0.77, 0.78, 0.77, 0.73, 0.7,
           0.74, 0.75, 0.7, 0.64, 0.72, 0.83, 0.8, 0.77, 0.76, 0.75, 0.72, 0.68, 0.66, 0.66, 0.6,
           0.56, 0.54, 0.53, 0.54, 0.56, 0.6, 0.63, 0.58, 0.56, 0.57, 0.58, 0.61, 0.66, 0.74, 0.77,
           0.71, 0.64, 0.59, 0.56, 0.54, 0.53, 0.52, 0.52, 0.53, 0.54, 0.56, 0.58, 0.55, 0.53, 0.53,
           0.53, 0.54, 0.56, 0.53, 0.52, 0.51, 0.5, 0.5, 0.51, 0.53, 0.56, 0.58, 0.58, 0.56, 0.54]

jli3_wl = [3515, 3525, 3535, 3545, 3555, 3565, 3575, 3585, 3600, 3615, 3630, 3645, 3660, 3675, 3690,
           3705, 3720, 3735, 3750, 3770, 3790, 3810, 3830, 3850, 3870, 3890, 3910, 3930, 3950, 3970,
           3990, 4010, 4030, 4055, 4080, 4100, 4115, 4135, 4155, 4195, 4235, 4275, 4316, 4340, 4360,
           4377, 4400, 4430, 4460, 4490, 4520, 4550, 4580, 4610, 4640, 4660, 4700, 4740, 4770, 4805,
           4845, 4885, 4915, 4945, 4985, 5010, 5045, 5075, 5110, 5150, 5190, 5240, 5280, 5290, 5300,
           5330, 5370, 5410, 5450, 5490, 5535, 5575, 5615, 5640, 5655, 5675, 5690, 5696, 5702, 5710,
           5740, 5780, 5820, 5860, 5900, 5940, 5980, 6020, 6060, 6100, 6140, 6180, 6225, 6265, 6305,
           6345, 6400, 6465, 6510, 6540, 6560, 6590, 6610, 6650, 6700, 6750, 6830, 6915, 6995, 7080,
           7155, 7200, 7250, 7290, 7320, 7360, 7400, 7440, 7480, 7540, 7585, 7630, 7685, 7720, 7765,
           7800, 7850, 7930, 8010, 8090, 8170, 8210, 8260, 8330, 8375, 8420, 8470, 8515, 8560, 8620,
           8680, 8720, 8760, 8790]
jli3_fl = [0.45, 0.79, 0.55, 0.65, 0.75, 0.49, 0.71, 0.6, 0.66, 0.5, 0.72, 0.62, 0.8, 0.55, 0.7,
           0.6, 0.74, 0.58, 0.7, 0.62, 0.71, 0.5, 0.38, 0.32, 0.4, 0.45, 0.6, 0.75, 0.83, 0.98,
           1.11, 1.05, 0.98, 0.88, 0.68, 0.55, 0.49, 0.56, 0.62, 0.64, 0.66, 0.68, 0.71, 0.66, 0.58,
           0.53, 0.48, 0.42, 0.36, 0.45, 0.62, 0.68, 0.71, 0.68, 0.62, 0.58, 0.5, 0.41, 0.35, 0.28,
           0.34, 0.41, 0.43, 0.45, 0.53, 0.48, 0.41, 0.34, 0.28, 0.34, 0.41, 0.47, 0.5, 1.86, 0.53,
           0.51, 0.49, 0.42, 0.32, 0.3, 0.28, 0.27, 0.24, 0.15, 0.02, -0.07, 0.6, 0.83, 0.1, 0.07,
           0.08, 0.09, 0.12, 0.15, 0.17, 0.13, 0.11, 0.13, 0.14, 0.15, 0.16, 0.18, 0.19, 0.17, 0.18,
           0.18, 0.19, 0.21, 0.24, 0.27, 0.24, 0.17, 0.15, 0.11, 0.08, 0.07, 0.06, 0.05, 0.06, 0.07,
           0.08, 0.11, 0.15, 0.18, 0.15, 0.11, 0.1, 0.09, 0.08, 0.05, 0.02, 0.05, 0.09, 0.12, 0.15,
           0.12, 0.09, 0.07, 0.05, 0.05, 0.06, 0.07, 0.06, 0.05, 0.05, 0.07, 0.11, 0.15, 0.14, 0.13,
           0.14, 0.15, 0.12, 0.11]

RED, ORANGE, GREEN, BLUE = '#ff0000', '#ffa500', '#00f000', '#0000ff'
CYAN, MAGENTA, BROWN, BLACK = '#00ffff', '#ff00ff', '#a52a2a', '#000000'

panel1 = [(esa1_wl, esa1_fl, RED, '2022esa +0.8d'),
          (ckj1_wl, ckj1_fl, GREEN, '2021ckj +7d'),
          (xxf1_wl, xxf1_fl, MAGENTA, '2022xxf \u22129d')]
panel2 = [(esa2_wl, esa2_fl, RED, '2022esa +80d'),
          (ibb2_wl, ibb2_fl, ORANGE, '2018ibb \u22121.2d'),
          (ckj2_wl, ckj2_fl, GREEN, '2021ckj +18d'),
          (ocs2_wl, ocs2_fl, BLUE, '2021ocs +13d'),
          (tsf2_wl, tsf2_fl, CYAN, '2019tsf +7d'),
          (xxf2_wl, xxf2_fl, MAGENTA, '2022xxf +66d'),
          (jli2_wl, jli2_fl, BROWN, '2022jli +20d')]
panel3 = [(esa3_wl, esa3_fl, RED, '2022esa +448d'),
          (ibb3_wl, ibb3_fl, ORANGE, '2018ibb +485d'),
          (mb3_wl, mb3_fl, BLACK, '2010mb +289d'),
          (ocs3_wl, ocs3_fl, BLUE, '2021ocs +145d'),
          (tsf3_wl, tsf3_fl, CYAN, '2019tsf +409d'),
          (xxf3_wl, xxf3_fl, MAGENTA, '2022xxf +122d'),
          (jli3_wl, jli3_fl, BROWN, '2022jli +180d')]

fig = plt.figure(figsize=(5.47, 16.2), dpi=100)


def draw_panel(rect, series, ylim, ystep, xpad, xlab_y, ylab_x, leg_x, leg_y, hlen, hpad, lspace):
    ax = fig.add_axes(rect)
    for wl, fl, col, lab in series:
        sns.lineplot(x=wl, y=fl, color=col, lw=0.85, sort=False, estimator=None,
                     label=lab, ax=ax)
    ax.set_xlim(3500, 8790)
    ax.set_ylim(*ylim)
    ax.xaxis.set_major_locator(MultipleLocator(1000))
    ax.xaxis.set_minor_locator(MultipleLocator(100))
    ax.yaxis.set_major_locator(MultipleLocator(ystep))
    ax.yaxis.set_minor_locator(NullLocator())
    ax.yaxis.set_major_formatter(FuncFormatter(lambda v, p: f'{v:g}'))
    ax.tick_params(which='major', direction='in', length=11, width=1, top=True, right=True,
                   labelsize=19)
    ax.tick_params(axis='x', which='major', pad=xpad)
    ax.tick_params(axis='y', which='major', pad=11)
    ax.tick_params(which='minor', direction='in', length=5, width=1, top=True, right=True)
    for s in ax.spines.values():
        s.set_linewidth(1.5)
    ax.set_xlabel('Rest wavelength (\u00c5)', fontsize=19, va='center')
    ax.set_ylabel('Scaled flux + const', fontsize=19, va='center')
    ax.xaxis.set_label_coords(0.5, xlab_y)
    ax.yaxis.set_label_coords(ylab_x, 0.5)
    leg = ax.legend(loc='upper right', bbox_to_anchor=(leg_x, leg_y), frameon=False,
                    markerfirst=False, fontsize=18, handlelength=hlen, handletextpad=hpad,
                    labelspacing=lspace, borderpad=0, borderaxespad=0)
    for h in leg.get_lines():
        h.set_linewidth(1.0)
    return ax


draw_panel([96 / 547, 1 - 464 / 1620, 453 / 547, 447.5 / 1620], panel1,
           (-0.1, 3.0), 0.5, 10, -0.152, -0.160, 0.929, 0.970, 2.8, 0.75, 0.2)
draw_panel([96 / 547, 1 - 1018 / 1620, 453 / 547, 447 / 1620], panel2,
           (-0.1, 4.8), 0.5, 8.5, -0.148, -0.163, 0.929, 0.965, 2.8, 0.7, 0.13)
draw_panel([90.7 / 547, 1 - 1542 / 1620, 454.3 / 547, 419 / 1620], panel3,
           (-0.09, 5.28), 1, 10, -0.153, -0.0997, 0.936, 0.974, 2.6, 1.8, 0.16)

fig.savefig('out.png', dpi=100)
